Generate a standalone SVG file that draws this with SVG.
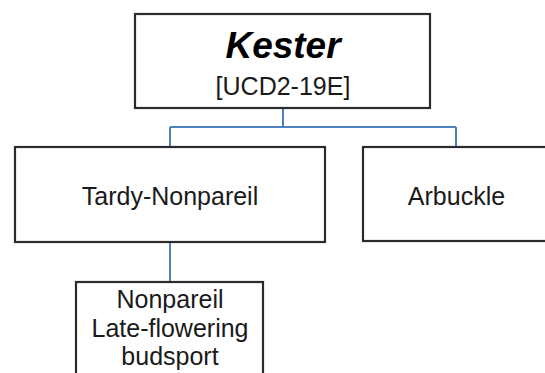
<svg xmlns="http://www.w3.org/2000/svg" width="545" height="373" viewBox="0 0 545 373">
<style>
.box{fill:#fff;stroke:#2b2b2b;stroke-width:2.2}
.t{font-family:"Liberation Sans",Arial,sans-serif;font-size:25px;fill:#1a1a1a;text-anchor:middle}
.k{font-family:"Liberation Sans",Arial,sans-serif;font-size:37px;font-weight:bold;font-style:italic;fill:#000;text-anchor:middle}
.c{fill:none;stroke:#4f81bd;stroke-width:2}
</style>
<rect width="545" height="373" fill="#fff"/>
<g id="connectors">
<path class="c" d="M283 108V127M170 127H456M170 127V147M456 127V147"/>
<path class="c" d="M170 242V282"/>
</g>
<g id="kester">
<rect class="box" x="135" y="14" width="295" height="94"/>
<text class="k" x="283" y="58">Kester</text>
<text class="t" x="283" y="95">[UCD2-19E]</text>
</g>
<g id="tardy">
<rect class="box" x="15" y="147" width="310" height="95"/>
<text class="t" x="170" y="205">Tardy-Nonpareil</text>
</g>
<g id="arbuckle">
<rect class="box" x="363" y="147" width="190" height="94"/>
<text class="t" x="456.500" y="205">Arbuckle</text>
</g>
<g id="budsport">
<rect class="box" x="76" y="282" width="187" height="100"/>
<text class="t" x="170" y="308">Nonpareil</text>
<text class="t" x="170" y="337">Late-flowering</text>
<text class="t" x="170" y="365">budsport</text>
</g>
</svg>
